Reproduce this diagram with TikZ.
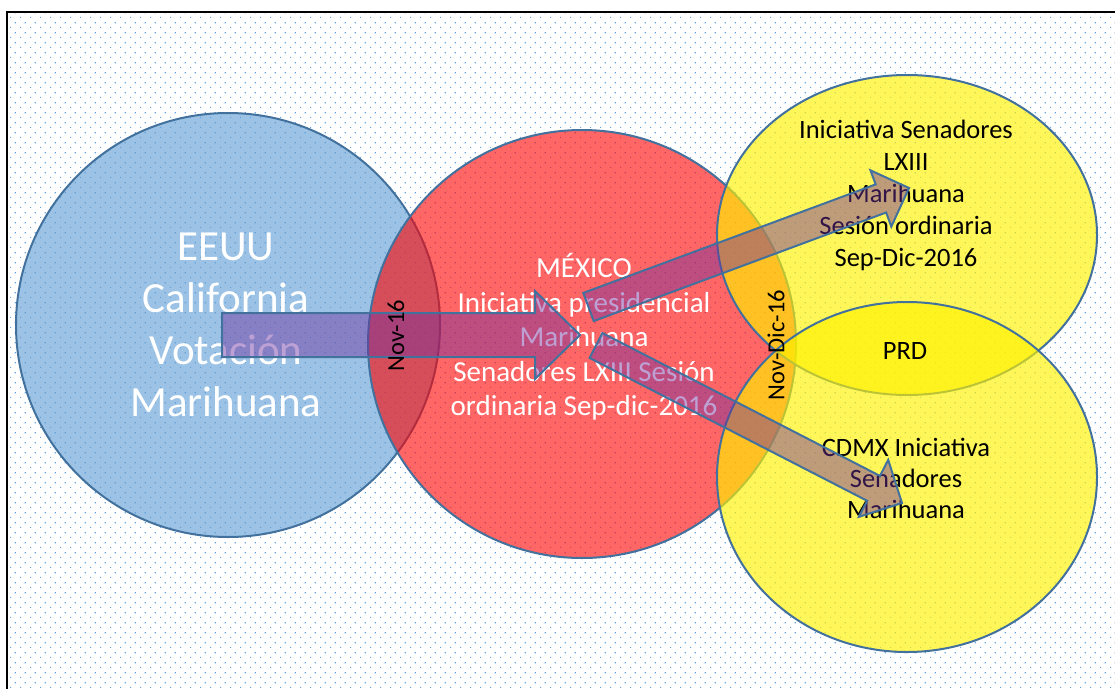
\documentclass[tikz,border=0pt]{standalone}
\usepackage{fontspec}
\setmainfont{Carlito}
\usetikzlibrary{calc,patterns,shapes.geometric}

\definecolor{azul}{RGB}{91,155,213}
\definecolor{borde}{RGB}{65,113,156}
\definecolor{morado}{RGB}{112,48,160}
\definecolor{puntos}{RGB}{110,165,222}

%% 背景的点阵图案
\pgfdeclarepatternformonly{puntitos}{\pgfpointorigin}{\pgfqpoint{9.7pt}{9.7pt}}{\pgfqpoint{9.7pt}{9.7pt}}{%
  \pgfpathrectangle{\pgfqpoint{0pt}{0pt}}{\pgfqpoint{1.2pt}{1.2pt}}%
  \pgfpathrectangle{\pgfqpoint{4.85pt}{4.85pt}}{\pgfqpoint{1.2pt}{1.2pt}}%
  \pgfusepath{fill}}

\tikzset{
  circulo/.style={draw=borde, line width=2pt, inner sep=0pt},
  texto/.style={align=center, inner sep=0pt},
  flecha/.style={draw=borde, line width=2pt, fill=morado, fill opacity=0.45, line join=miter},
}

\begin{document}
\begin{tikzpicture}[x=1pt,y=-1pt]
    \useasboundingbox (0,0) rectangle (1115,688);
    \clip (0,0) rectangle (1115,688);
    \fill[white] (0,0) rectangle (1115,688);
    \fill[pattern=puntitos, pattern color=puntos] (8,13) rectangle (1115,688);
    %%四个圆
    \node[circulo, circle, minimum size=424pt, fill=azul, fill opacity=0.6] (EEUU) at (228,325) {};
    \node[circulo, circle, minimum size=428pt, fill=red, fill opacity=0.6] (MEX) at (582,344) {};
    \node[circulo, ellipse, minimum width=380pt, minimum height=320pt, fill=yellow, fill opacity=0.65] (SEN) at (907,235) {};
    \node[circulo, ellipse, minimum width=380pt, minimum height=350pt, fill=yellow, fill opacity=0.65] (CDMX) at (907,477) {};
    %%文字
    \node[texto, text=white, font=\fontsize{43}{52}\selectfont] (tEEUU) at ($(EEUU)+(-2,0)$) {EEUU\\California\\Votación\\Marihuana};
    \node[texto, text=white, font=\fontsize{29}{34.5}\selectfont] (tMEX) at ($(MEX)+(2,-7)$) {MÉXICO\\Iniciativa presidencial\\Marihuana\\Senadores LXIII Sesión\\ordinaria Sep-dic-2016};
    \node[texto, font=\fontsize{26.5}{32}\selectfont] (tSEN) at ($(SEN)+(-1,-40)$) {Iniciativa Senadores\\LXIII\\Marihuana\\Sesión ordinaria\\Sep-Dic-2016};
    \node[texto, font=\fontsize{26.5}{31}\selectfont] (tCDMX) at ($(CDMX)+(-1,1)$) {CDMX Iniciativa\\Senadores\\Marihuana};
    \node[texto, font=\fontsize{26.5}{30}\selectfont] (PRD) at (905,351) {PRD};
    %%箭头的起点与终点
    \coordinate (a1s) at (222,335);
    \coordinate (a1e) at (580,335);
    \coordinate (a2s) at (588.5,307);
    \coordinate (a2e) at (909,188);
    \coordinate (a3s) at (596,345.5);
    \coordinate (a3e) at (902,503);
    \foreach \ini/\fin/\ancho/\cabeza/\largo in {a1s/a1e/22pt/44pt/45pt, a2s/a2e/15pt/30pt/30pt, a3s/a3e/14pt/32pt/32pt}{
        \coordinate (cb) at ($(\fin)!\largo!(\ini)$); %箭头底部中点
        \draw[flecha] ($(\ini)!\ancho!90:(\fin)$) -- ($(cb)!\ancho!-90:(\ini)$) -- ($(cb)!\cabeza!-90:(\ini)$) -- (\fin)
            -- ($(cb)!\cabeza!90:(\ini)$) -- ($(cb)!\ancho!90:(\ini)$) -- ($(\ini)!\ancho!-90:(\fin)$) -- cycle;
    }
    \node[texto, rotate=90, font=\fontsize{24.5}{28}\selectfont] (nov) at (396,335.5) {Nov-16};
    \node[texto, rotate=90, font=\fontsize{24.5}{28}\selectfont] (novdic) at (776,345) {Nov-Dic-16};
    %%外框
    \draw[line width=2.5pt] (7,12) rectangle (1140,720);
\end{tikzpicture}
\end{document}
